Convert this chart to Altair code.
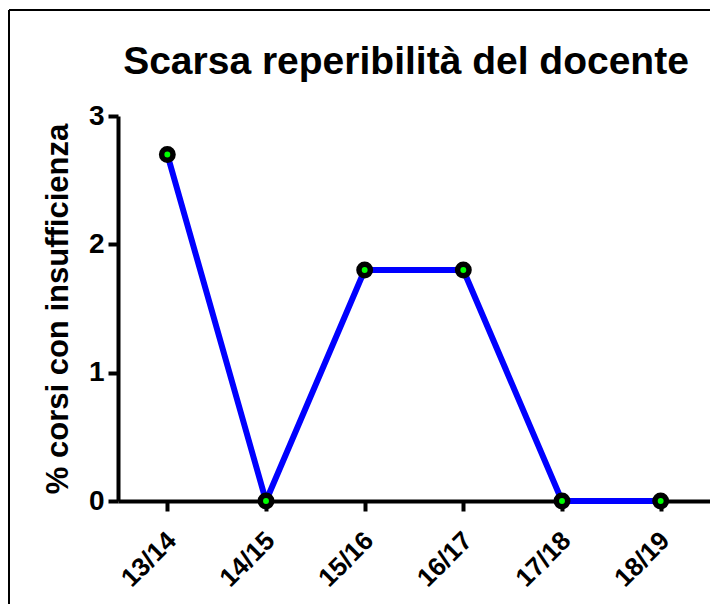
import altair as alt
import pandas as pd

years = ["13/14", "14/15", "15/16", "16/17", "17/18", "18/19"]
values = [2.7, 0.0, 1.8, 1.8, 0.0, 0.0]
title_text = ["Scarsa reperibilità del docente"]

df = pd.DataFrame({"anno": years, "valore": values})
FONT = "Liberation Sans, Arial, sans-serif"

x_enc = alt.X(
    "anno:N",
    sort=years,
    scale=alt.Scale(type="point", padding=0.5),
    axis=alt.Axis(
        title=None,
        labelAngle=-45,
        labelFontSize=26,
        labelFont=FONT,
        labelFontWeight="bold",
        labelColor="black",
        labelPadding=16,
        labelOffset=-5,
        domainColor="black",
        domainWidth=4,
        tickColor="black",
        tickWidth=4,
        tickSize=10,
        grid=False,
    ),
)
y_enc = alt.Y(
    "valore:Q",
    scale=alt.Scale(domain=[0, 3], nice=False, zero=True),
    axis=alt.Axis(
        title="% corsi con insufficienza",
        titleFontSize=31,
        titleFont=FONT,
        titleFontWeight="bold",
        titleColor="black",
        titlePadding=14,
        values=[0, 1, 2, 3],
        format="d",
        labelFontSize=28,
        labelFont=FONT,
        labelFontWeight="bold",
        labelColor="black",
        labelPadding=4,
        domainColor="black",
        domainWidth=4,
        tickColor="black",
        tickWidth=4,
        tickSize=10,
        grid=False,
    ),
)

base = alt.Chart(df)
line = base.mark_line(color="#0000ff", strokeWidth=6).encode(x=x_enc, y=y_enc)
points = base.mark_point(
    filled=True, fill="#00ff00", stroke="black", strokeWidth=5.5, size=130, opacity=1
).encode(x=alt.X("anno:N", sort=years), y="valore:Q")

title_df = pd.DataFrame({"t": title_text})
title = alt.Chart(title_df).mark_text(
    font=FONT,
    fontSize=39,
    fontWeight="bold",
    color="black",
    align="center",
    baseline="alphabetic",
).encode(text="t:N", x=alt.value(288), y=alt.value(-42))

border_top = alt.Chart(title_df).mark_rule(color="black", strokeWidth=2).encode(
    x=alt.value(-109), x2=alt.value(600), y=alt.value(-106)
)
border_left = alt.Chart(title_df).mark_rule(color="black", strokeWidth=2).encode(
    x=alt.value(-109), y=alt.value(-106), y2=alt.value(520)
)

chart = (
    alt.layer(line, points, title, border_top, border_left)
    .properties(
        width=592,
        height=385,
        autosize=alt.AutoSizeParams(type="none"),
        padding={"left": 110, "top": 108, "right": 0, "bottom": 103},
        background="white",
    )
    .configure_view(strokeWidth=0, stroke=None)
)

chart.save("out.html", embed_options={"renderer": "svg", "actions": False})
